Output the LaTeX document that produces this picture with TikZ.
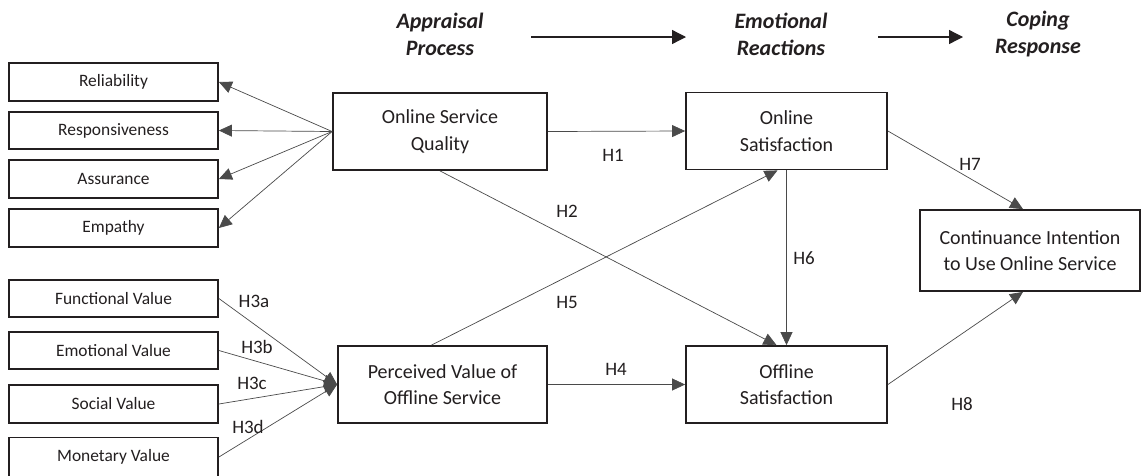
\documentclass[tikz,border=0pt]{standalone}
\usepackage{fontspec}
\setmainfont{Carlito}
\usetikzlibrary{arrows.meta,calc}
\definecolor{ink}{HTML}{231F20}
\definecolor{wire}{HTML}{4A4A4A}
\begin{document}
\begin{tikzpicture}[x=1pt,y=-1pt,
  leftbox/.style={draw=ink,line width=1.8pt,minimum width=209pt,minimum height=37.5pt,inner sep=0pt,text=ink,font=\fontsize{17.4}{20}\selectfont},
  midbox/.style={draw=ink,line width=1.8pt,minimum height=77pt,inner sep=0pt,text=ink,align=center,font=\fontsize{20}{26.5}\selectfont},
  head/.style={text=ink,align=center,font=\fontsize{22}{27}\selectfont\bfseries\itshape},
  hlab/.style={text=ink,inner sep=0pt,font=\fontsize{19}{22}\selectfont},
  link/.style={draw=wire,line width=0.7pt,-{Triangle[length=13pt,width=12pt]}},
  flow/.style={draw=ink,line width=1.3pt,-{Triangle[length=14pt,width=14pt]}}]
\useasboundingbox (0,0) rectangle (1142,475);
\fill[white] (0,0) rectangle (1142,475);

% headers
\node[head] (hap) at (440,34) {Appraisal\\Process};
\node[head] (her) at (781,34) {Emotional\\Reactions};
\node[head] (hcr) at (1038,34) {Coping\\Response};
\coordinate (fa1) at (531,37);
\coordinate (fa2) at (686,37);
\coordinate (fb1) at (878,37);
\coordinate (fb2) at (963,37);
\draw[flow] (fa1) -- (fa2);
\draw[flow] (fb1) -- (fb2);

% left boxes (service quality dimensions)
\node[leftbox] (rel) at (113.5,82) {Reliability};
\node[leftbox] (res) at (113.5,130.5) {Responsiveness};
\node[leftbox] (ass) at (113.5,179) {Assurance};
\node[leftbox] (emp) at (113.5,228) {Empathy};

% left boxes (value dimensions)
\node[leftbox] (fun) at (113.5,298.5) {Functional Value};
\node[leftbox] (emo) at (113.5,350.5) {Emotional Value};
\node[leftbox] (soc) at (113.5,404) {Social Value};
\node[leftbox,minimum height=39pt] (mon) at (113.5,457) {Monetary Value};

% central boxes
\node[midbox,minimum width=214pt] (osq) at (440,131.5) {Online Service\\Quality};
\node[midbox,minimum width=209pt] (pvo) at (442.5,384.5) {Perceived Value of\\Offline Service};
\node[midbox,minimum width=201pt] (ons) at (786.5,131) {Online\\Satisfaction};
\node[midbox,minimum width=201pt] (ofs) at (786.5,384.5) {Offline\\Satisfaction};
\node[midbox,minimum width=220pt,minimum height=81pt] (cio) at (1030,250.5) {Continuance Intention\\to Use Online Service};

% quality dimension arrows
\draw[link] (osq.west) -- (rel.east);
\draw[link] (osq.west) -- (res.east);
\draw[link] (osq.west) -- (ass.east);
\draw[link] (osq.west) -- (emp.east);

% value dimension arrows
\draw[link] (fun.east) -- (pvo.west);
\draw[link] (emo.east) -- (pvo.west);
\draw[link] (soc.east) -- (pvo.west);
\draw[link] (mon.east) -- (pvo.west);
\node[hlab] (h3a) at (254,301) {H3a};
\node[hlab] (h3b) at (257,347) {H3b};
\node[hlab] (h3c) at (252,383) {H3c};
\node[hlab] (h3d) at (248,427) {H3d};

% hypotheses
\draw[link] (osq.east) -- (ons.west);
\node[hlab] (h1) at (613,155) {H1};
\draw[link] (osq.south) -- ([xshift=-10pt]ofs.north);
\node[hlab] (h2) at (567,211) {H2};
\draw[link] (pvo.east) -- (ofs.west);
\node[hlab] (h4) at (616,369) {H4};
\draw[link] ([xshift=-11pt]pvo.north) -- ([xshift=-9pt]ons.south);
\node[hlab] (h5) at (567,302) {H5};
\draw[link] (ons.south) -- (ofs.north);
\node[hlab] (h6) at (804,258) {H6};
\draw[link] (ons.east) -- ([xshift=-7pt]cio.north);
\node[hlab] (h7) at (970,164) {H7};
\draw[link] (ofs.east) -- ([xshift=-7pt]cio.south);
\node[hlab] (h8) at (962,404) {H8};
\end{tikzpicture}
\end{document}
